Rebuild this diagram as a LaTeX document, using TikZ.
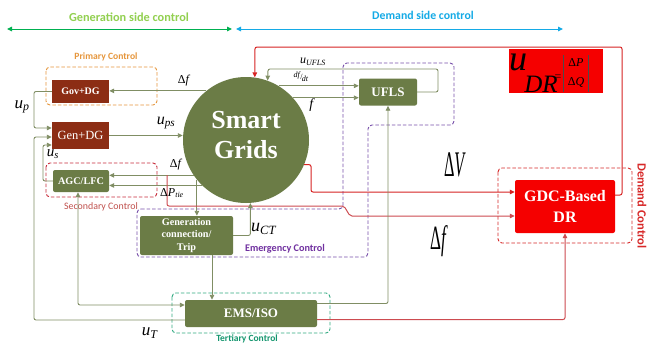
\documentclass[tikz,border=0pt]{standalone}
\usepackage{fontspec}
\setmainfont{Liberation Serif}
\newfontfamily\carl{Carlito}
\usetikzlibrary{arrows.meta,calc}
\definecolor{gboxc}{RGB}{107,124,70}
\definecolor{dredc}{RGB}{140,45,20}
\definecolor{brred}{RGB}{245,0,0}
\definecolor{linegc}{RGB}{128,142,100}
\definecolor{rlinec}{RGB}{215,35,35}
\definecolor{rline2c}{RGB}{205,75,80}
\definecolor{topgreen}{RGB}{0,176,80}
\definecolor{topgreentxt}{RGB}{146,208,80}
\definecolor{topblue}{RGB}{20,170,230}
\definecolor{orangec}{RGB}{230,150,60}
\definecolor{secred}{RGB}{200,45,60}
\definecolor{sectxt}{RGB}{192,80,77}
\definecolor{purplec}{RGB}{120,80,170}
\definecolor{purpletxt}{RGB}{112,48,160}
\definecolor{tealc}{RGB}{50,170,130}
\definecolor{tealtxt}{RGB}{20,150,110}
\definecolor{demred}{RGB}{215,40,40}
\tikzset{
  tip/.style={-{Triangle[length=5pt,width=4.5pt]}},
  tiptwo/.style={{Triangle[length=5pt,width=4.5pt]}-{Triangle[length=5pt,width=4.5pt]}},
  cl/.style={draw=linegc, line width=0.9pt, rounded corners=2pt},
  rl/.style={draw=rlinec, line width=1pt, rounded corners=2pt},
  rltwo/.style={draw=rline2c, line width=1pt, rounded corners=2pt},
  gbox/.style={fill=gboxc, text=white, rounded corners=2pt, inner sep=0pt, font=\bfseries},
  rbox/.style={fill=dredc, text=white, inner sep=0pt},
  dbox/.style={dashed, dash pattern=on 3.5pt off 2pt, line width=0.9pt, rounded corners=4pt},
  lbl/.style={inner sep=0pt, text=black},
}
\begin{document}
\begin{tikzpicture}[x=1pt,y=-1pt]
\useasboundingbox (0,0) rectangle (648,343);
\fill[white] (0,0) rectangle (648,343);

% top arrows
\coordinate (ga) at (7,29);
\coordinate (gb) at (232,29);
\coordinate (da) at (236,29);
\coordinate (db) at (563,29);
\draw[topgreen, line width=1pt, tiptwo] (ga) -- (gb);
\draw[topblue, line width=1pt, tiptwo] (da) -- (db);
\node[inner sep=0pt, text=topgreentxt, font=\carl\bfseries\fontsize{12.3}{13}\selectfont] (gsc) at (129,17) {Generation side control};
\node[inner sep=0pt, text=topblue, font=\carl\bfseries\fontsize{11.8}{13}\selectfont] (dsc) at (423,15) {Demand side control};

% dashed frames
\draw[dbox, draw=orangec] (46,67) rectangle (157,105);
\node[inner sep=0pt, text=orangec, font=\carl\bfseries\fontsize{9.6}{10}\selectfont] (pcl) at (106,57) {Primary Control};
\draw[dbox, draw=secred] (46,163) rectangle (157,197);
\node[inner sep=0pt, text=sectxt, font=\carl\fontsize{9.9}{10}\selectfont] (scl) at (101,207) {Secondary Control};
\draw[dbox, draw=purplec] (137,209) -- (343,209) -- (343,63) -- (454,63) -- (454,125) -- (368,125) -- (368,257) -- (137,257) -- cycle;
\node[inner sep=0pt, text=purpletxt, font=\carl\bfseries\fontsize{10.2}{11}\selectfont] (ecl) at (285,249) {Emergency Control};
\draw[dbox, draw=tealc] (172,293) rectangle (330,333);
\node[inner sep=0pt, text=tealtxt, font=\carl\bfseries\fontsize{9.5}{10}\selectfont] (tcl) at (247,338.5) {Tertiary Control};
\draw[dbox, draw=demred] (498,168) rectangle (632,243);
\node[inner sep=0pt, rotate=-90, text=demred, font=\carl\bfseries\fontsize{12.5}{13}\selectfont] (dcl) at (642,206) {Demand Control};

% formula box
\fill[brred] (509,49) rectangle (603,93);
\node[lbl, font=\fontsize{36}{36}\selectfont\itshape] (fu) at (518,62) {u};
\node[lbl, font=\fontsize{25}{25}\selectfont\itshape] (fdr) at (541,84) {DR};
\node[lbl, font=\fontsize{12}{12}\selectfont] (feq) at (558,78) {=};
\node[lbl, font=\fontsize{12}{12}\selectfont] (fp) at (576,63) {Δ\textit{P}};
\node[lbl, font=\fontsize{12}{12}\selectfont] (fq) at (576,82) {Δ\textit{Q}};
\draw[black!70, line width=0.5pt] (563,55) -- (563,92);
\draw[black!70, line width=0.5pt] (588,55) -- (588,92);

% main nodes
\node[circle, fill=gboxc, minimum size=126pt, inner sep=0pt] (sg) at (246,140) {};
\node[inner sep=0pt, text=white, align=center, font=\bfseries\fontsize{26}{30}\selectfont] (sgt) at (246,135) {Smart\\Grids};
\node[rbox, minimum width=57pt, minimum height=23pt, font=\bfseries\fontsize{10}{11}\selectfont] (gov) at (80.5,91.5) {Gov+DG};
\node[rbox, minimum width=57pt, minimum height=27pt, font=\fontsize{12.5}{13}\selectfont] (gen) at (80.5,135.5) {Gen+DG};
\node[gbox, minimum width=56pt, minimum height=22pt, font=\bfseries\fontsize{10.2}{11}\selectfont] (agc) at (81,181) {AGC/LFC};
\node[gbox, minimum width=58pt, minimum height=27pt, font=\bfseries\fontsize{13}{14}\selectfont] (ufls) at (388,92) {UFLS};
\node[gbox, minimum width=93pt, minimum height=39pt, align=center, font=\bfseries\fontsize{10.2}{12.5}\selectfont] (gcon) at (186.5,235.5) {Generation\\connection/\\Trip};
\node[gbox, minimum width=132pt, minimum height=27pt, font=\bfseries\fontsize{13}{14}\selectfont] (ems) at (251,313.5) {EMS/ISO};
\node[gbox, fill=brred, minimum width=100pt, minimum height=53pt, align=center, font=\bfseries\fontsize{16}{21}\selectfont] (gdc) at (565,206.5) {GDC-Based\\DR};

% connectors
\draw[rl, tip] ([yshift=11.5pt]gdc.east) -- (622,195) -- (622,47) -- (255,47) -- (sg.82);
\draw[cl, tip] (ufls.east) -- (438,92) -- (438,69) -- (268,69) -- (sg.70);
\draw[cl, tip] (sg.59) -- (sg.59 -| ufls.west);
\draw[cl, tip] (sg.42) -- (sg.42 -| ufls.west);
\draw[cl, tip] (sg.129) -- (sg.129 -| gov.east);
\draw[cl, tip] (gov.west) -- (34,91.5) |- ([yshift=7.5pt]gen.west);
\draw[cl, tip] (gen.east) -- (gen.east -| sg.west);
\draw[cl, tip] (agc.west) -- (43,181) |- ([yshift=-9.5pt]gen.west);
\draw[cl, tip] ([yshift=-6.5pt]ems.west) -| (34,137) -- ([yshift=-1.5pt]gen.west);
\draw[cl, tiptwo] ([xshift=-3pt]agc.south) |- ([yshift=8.5pt]ems.west);
\draw[cl, tip] (sg.214) -- (sg.214 -| agc.east);
\draw[cl, tip] (sg.226) -- (sg.226 -| agc.east);
\draw[cl, tip] (sg.219) -- (sg.219 |- gcon.north);
\coordinate (rd) at (167,175);
\draw[rltwo, tip] (rd) -- (167,206) -- (344,206) -- (350,216) -- ([yshift=-9.5pt]gdc.west);
\draw[rl, tip] (sg.-23) -- (311,164.6) -- (311,192) -- ([yshift=14.5pt]gdc.west);
\draw[cl, tip] (gcon.east) -| (sg.274);
\draw[cl, tip] ([xshift=25.5pt]gcon.south) -- ([xshift=25.5pt]gcon.south |- ems.north);
\draw[cl, tip] ([yshift=10pt]ems.east) -| (ufls.south);
\draw[rltwo, tip] ([yshift=-6pt]ems.east) -| (gdc.south);

% labels
\node[lbl, font=\fontsize{12}{12}\selectfont] (ldf1) at (184,81) {Δ\textit{f}};
\node[lbl, font=\fontsize{17}{17}\selectfont] (lup) at (22,107) {\textit{u}\textsubscript{\textit{p}}};
\node[lbl, font=\fontsize{16}{16}\selectfont] (lups) at (166,123) {\textit{u}\textsubscript{\textit{ps}}};
\node[lbl, font=\fontsize{15}{15}\selectfont] (lus) at (53,154) {\textit{u}\textsubscript{\textit{s}}};
\node[lbl, font=\fontsize{12}{12}\selectfont] (ldf2) at (176,165) {Δ\textit{f}};
\node[lbl, font=\fontsize{12}{12}\selectfont] (ldp) at (172,193) {Δ\textit{P}\textsubscript{\textit{tie}}};
\node[lbl, font=\fontsize{12}{12}\selectfont] (luu) at (313,62) {\textit{u}\textsubscript{\textit{UFLS}}};
\node[lbl, font=\fontsize{8}{8}\selectfont] (ldfdt) at (301,77) {\raisebox{2pt}{\textit{df}}\kern-0.5pt/\kern-0.5pt\raisebox{-2pt}{\textit{dt}}};
\node[lbl, font=\fontsize{14}{14}\selectfont] (lf) at (312,105) {\textit{f}};
\node[lbl, font=\fontsize{18}{18}\selectfont] (luct) at (264,229) {\textit{u}\textsubscript{\textit{CT}}};
\node[lbl, font=\fontsize{17}{17}\selectfont] (lut) at (150,333) {\textit{u}\textsubscript{\textit{T}}};
\node[lbl, font=\fontsize{36}{36}\selectfont] (ldv) at (455,165) {\scalebox{0.45}[1]{Δ\textit{V}}};
\node[lbl, font=\fontsize{34}{34}\selectfont] (ldf3) at (439,241) {\scalebox{0.5}[1]{Δ\textit{f}}};
\end{tikzpicture}
\end{document}
